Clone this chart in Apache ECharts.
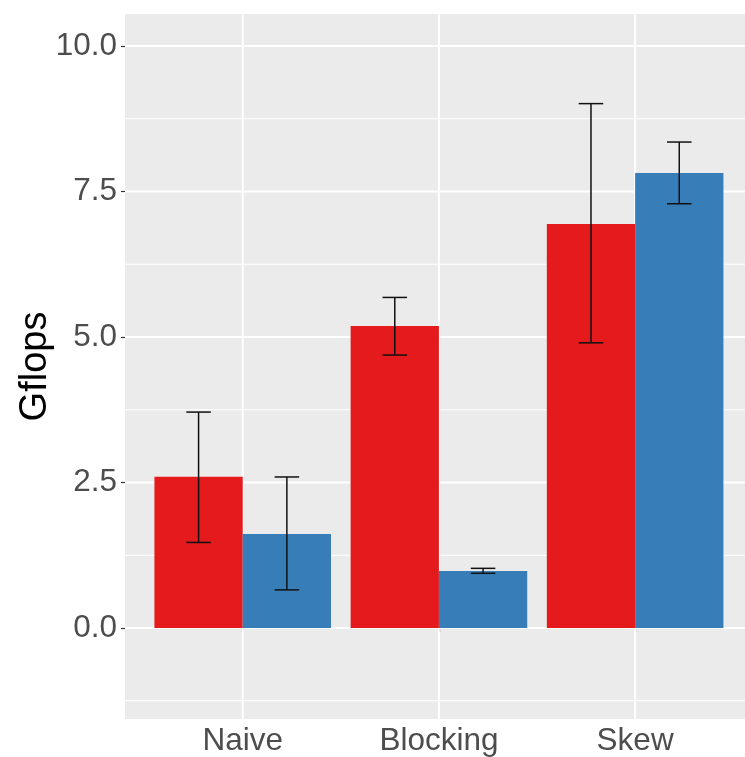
<!DOCTYPE html>
<html><head><meta charset="utf-8">
<script src="https://cdn.jsdelivr.net/npm/echarts@6/dist/echarts.min.js"></script>
<style>html,body{margin:0;padding:0;background:#fff}#c{width:745px;height:757px}</style>
</head><body><div id="c"></div>
<script>
const categories = ['Naive', 'Blocking', 'Skew'];
const redValues  = [2.60, 5.19, 6.94];
const redLow     = [1.47, 4.69, 4.90];
const redHigh    = [3.71, 5.68, 9.01];
const blueValues = [1.615, 0.98, 7.82];
const blueLow    = [0.655, 0.94, 7.29];
const blueHigh   = [2.595, 1.025, 8.35];
const yTicks = [0, 2.5, 5, 7.5, 10];
const yMinor = [-1.25, 1.25, 3.75, 6.25, 8.75];
const xPositions = [1, 2, 3];

const FONT = 'Liberation Sans, Arial, sans-serif';
const RED = '#E41A1C', BLUE = '#377EB8';
const BAR_W = 0.45, WHISKER = 0.0625;

function build(values, low, high) {
  return categories.map((c, i) => [xPositions[i], values[i], low[i], high[i]]);
}

function barRender(offset, color) {
  return function (params, api) {
    const x = api.value(0), v = api.value(1);
    const left = x + offset * BAR_W;
    const p0 = api.coord([left, v]);
    const p1 = api.coord([left + BAR_W, 0]);
    return {
      type: 'rect',
      shape: { x: p0[0], y: p0[1], width: p1[0] - p0[0], height: p1[1] - p0[1] },
      style: { fill: color }
    };
  };
}
function errRender(offset) {
  return function (params, api) {
    const x = api.value(0), lo = api.value(2), hi = api.value(3);
    const c = x + offset * BAR_W + BAR_W / 2;
    const a = api.coord([c, hi]), b = api.coord([c, lo]);
    const w = api.size([WHISKER, 0])[0];
    const st = { stroke: '#111', lineWidth: 1.5 };
    return {
      type: 'group', children: [
        { type: 'line', shape: { x1: a[0], y1: a[1], x2: b[0], y2: b[1] }, style: st },
        { type: 'line', shape: { x1: a[0] - w, y1: a[1], x2: a[0] + w, y2: a[1] }, style: st },
        { type: 'line', shape: { x1: b[0] - w, y1: b[1], x2: b[0] + w, y2: b[1] }, style: st }
      ]
    };
  };
}
function hLineRender(width) {
  return function (params, api) {
    const cs = params.coordSys;
    const y = api.coord([1, api.value(0)])[1];
    return { type: 'line', shape: { x1: cs.x, y1: y, x2: cs.x + cs.width, y2: y },
      style: { stroke: '#FFFFFF', lineWidth: width } };
  };
}
function vLineRender(width) {
  return function (params, api) {
    const cs = params.coordSys;
    const x = api.coord([api.value(0), 0])[0];
    return { type: 'line', shape: { x1: x, y1: cs.y, x2: x, y2: cs.y + cs.height },
      style: { stroke: '#FFFFFF', lineWidth: width } };
  };
}

const chart = echarts.init(document.getElementById('c'), null, { renderer: 'canvas' });
chart.setOption({
  animation: false,
  backgroundColor: '#FFFFFF',
  grid: { left: 125, right: 0, top: 14, bottom: 38, show: true, backgroundColor: '#EBEBEB', borderWidth: 0,
          containLabel: false, outerBoundsMode: 'none' },
  xAxis: {
    type: 'value', min: 0.4, max: 3.56,
    axisLine: { show: false },
    splitLine: { show: false },
    axisTick: { show: true, length: 4, customValues: xPositions, lineStyle: { color: '#333333', width: 1.2 } },
    axisLabel: {
      customValues: xPositions, margin: 6,
      formatter: v => categories[Math.round(v) - 1] || '',
      color: '#4D4D4D', fontSize: 31.5, fontFamily: FONT
    }
  },
  yAxis: {
    type: 'value', min: -1.5636, max: 10.55,
    name: 'Gflops', nameLocation: 'middle', nameGap: 70, nameMoveOverlap: false,
    nameTextStyle: { color: '#000000', fontSize: 38, fontFamily: FONT },
    axisLine: { show: false },
    splitLine: { show: false },
    axisTick: { show: true, length: 4, customValues: yTicks, lineStyle: { color: '#333333', width: 1.2 } },
    axisLabel: {
      customValues: yTicks, margin: 8,
      formatter: v => v.toFixed(1),
      color: '#4D4D4D', fontSize: 31.5, fontFamily: FONT
    }
  },
  series: [
    { type: 'custom', z: 1, silent: true, data: yMinor.map(v => [v]), renderItem: hLineRender(1), encode: { y: 0 } },
    { type: 'custom', z: 1, silent: true, data: yTicks.map(v => [v]), renderItem: hLineRender(2), encode: { y: 0 } },
    { type: 'custom', z: 1, silent: true, data: xPositions.map(v => [v]), renderItem: vLineRender(2), encode: { x: 0 } },
    { type: 'custom', z: 2, name: 'red', data: build(redValues, redLow, redHigh), renderItem: barRender(-1, RED), encode: { x: 0, y: 1 } },
    { type: 'custom', z: 2, name: 'blue', data: build(blueValues, blueLow, blueHigh), renderItem: barRender(0, BLUE), encode: { x: 0, y: 1 } },
    { type: 'custom', z: 3, data: build(redValues, redLow, redHigh), renderItem: errRender(-1), encode: { x: 0, y: [2, 3] } },
    { type: 'custom', z: 3, data: build(blueValues, blueLow, blueHigh), renderItem: errRender(0), encode: { x: 0, y: [2, 3] } }
  ]
});
</script></body></html>
